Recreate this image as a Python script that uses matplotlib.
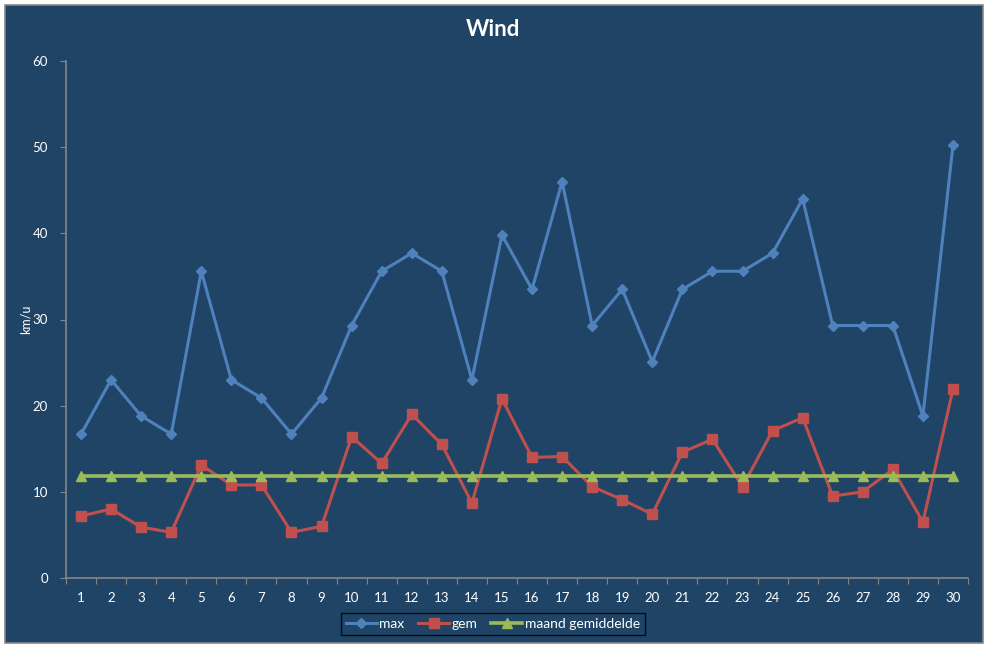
import matplotlib.pyplot as plt
import matplotlib
from matplotlib.patches import Rectangle
from matplotlib.ticker import FixedLocator, NullFormatter

matplotlib.rcParams['font.family'] = ['Lato', 'DejaVu Sans']

# data
days = list(range(1, 31))
wind_max = [16.7, 23.0, 18.8, 16.7, 35.6, 23.0, 20.9, 16.7, 20.9, 29.3,
            35.6, 37.7, 35.6, 23.0, 39.8, 33.5, 46.0, 29.3, 33.5, 25.1,
            33.5, 35.6, 35.6, 37.7, 44.0, 29.3, 29.3, 29.3, 18.8, 50.2]
wind_gem = [7.2, 8.0, 5.9, 5.3, 13.1, 10.8, 10.8, 5.3, 6.0, 16.4,
            13.3, 19.0, 15.5, 8.7, 20.8, 14.0, 14.1, 10.6, 9.1, 7.4,
            14.6, 16.1, 10.6, 17.1, 18.6, 9.5, 10.0, 12.6, 6.5, 21.9]
maand_gem = [11.8] * 30

BG = '#1F4466'
AXC = '#868686'
W, H = 987, 648

fig = plt.figure(figsize=(W / 100, H / 100), dpi=100)
fig.patch.set_facecolor('white')
fig.patches.append(Rectangle((5 / W, 5 / H), 978 / W, 638 / H, transform=fig.transFigure,
                             facecolor=BG, edgecolor=AXC, linewidth=1.2, zorder=-10))

ax = fig.add_axes([66 / W, (H - 578) / H, (968 - 66) / W, (578 - 61) / H])
ax.set_facecolor(BG)

ax.plot(days, wind_max, color='#4F81BD', lw=2.2, marker='D', ms=5, label='max')
ax.plot(days, wind_gem, color='#C0504D', lw=2.2, marker='s', ms=7, label='gem')
ax.plot(days, maand_gem, color='#9BBB59', lw=2.6, marker='^', ms=7, label='maand gemiddelde')

ax.set_xlim(0.5, 30.5)
ax.set_ylim(0, 60)
ax.set_yticks(range(0, 61, 10))

# category axis: ticks between the categories, labels at the categories
ax.xaxis.set_major_locator(FixedLocator([d - 0.5 for d in days] + [30.5]))
ax.xaxis.set_major_formatter(NullFormatter())
ax.xaxis.set_minor_locator(FixedLocator(days))
ax.set_xticklabels([str(d) for d in days], minor=True)
ax.tick_params(axis='x', which='major', length=4, color=AXC, direction='out')
ax.tick_params(axis='x', which='minor', length=0, pad=10, labelsize=9.5, labelcolor='white')
ax.tick_params(axis='y', length=4, color=AXC, labelsize=9.5, labelcolor='white', pad=9)

for side in ['top', 'right']:
    ax.spines[side].set_visible(False)
for side in ['left', 'bottom']:
    ax.spines[side].set_color(AXC)
    ax.spines[side].set_linewidth(1.2)

ax.set_ylabel('km/u', color='white', fontsize=9)
ax.yaxis.set_label_coords(-(66 - 32) / (968 - 66), 0.5)
fig.text(493 / W, (H - 30) / H, 'Wind', color='white', fontsize=16, fontweight='bold',
         ha='center', va='center')

leg = fig.legend(loc='center', bbox_to_anchor=(493 / W, (H - 624) / H), ncol=3,
                 frameon=True, fontsize=10, handlelength=2.2, columnspacing=1.0,
                 handletextpad=0.2, borderpad=0.35)
leg.get_frame().set_facecolor(BG)
leg.get_frame().set_edgecolor('black')
leg.get_frame().set_boxstyle('square', pad=0)
for t in leg.get_texts():
    t.set_color('white')

plt.savefig('out.png', dpi=100, facecolor=fig.get_facecolor())
